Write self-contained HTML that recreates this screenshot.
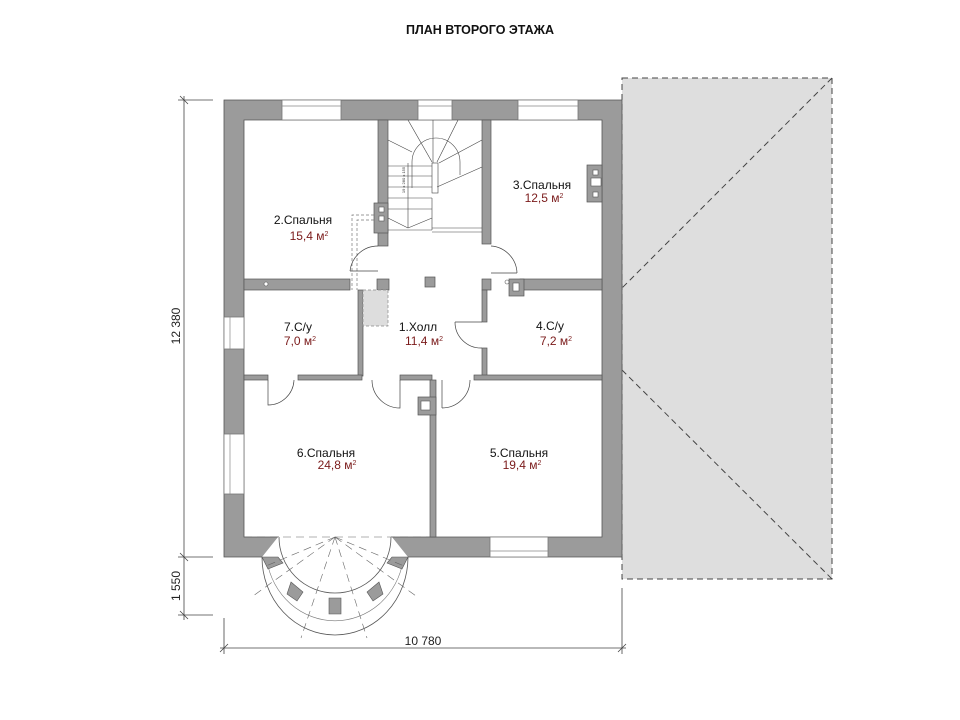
<!DOCTYPE html>
<html><head><meta charset="utf-8"><style>
html,body{margin:0;padding:0;background:#fff;}
svg{display:block;font-family:"Liberation Sans",sans-serif;}
</style></head><body>
<svg width="960" height="720" viewBox="0 0 960 720" xmlns="http://www.w3.org/2000/svg">
<text x="480" y="34" text-anchor="middle" font-size="12.5" font-weight="bold" fill="#111">ПЛАН ВТОРОГО ЭТАЖА</text>

<!-- roof -->
<rect x="622" y="78" width="210" height="501" fill="#dedede" stroke="#444" stroke-width="1" stroke-dasharray="6,4"/>
<line x1="832" y1="78" x2="622" y2="288" stroke="#444" stroke-dasharray="6,4"/>
<line x1="622" y1="370" x2="832" y2="579" stroke="#444" stroke-dasharray="6,4"/>

<!-- outer walls -->
<g fill="#9b9b9b" stroke="#555" stroke-width="0.8">
<path d="M224,100 H622 V557 H224 Z M244,120 V537 H602 V120 Z" fill-rule="evenodd"/>
</g>
<!-- bay outer wall -->
<path d="M262,557 A73,78 0 0 0 408,557 L392,537 A57,57 0 0 1 278,537 Z" fill="#fff" stroke="none"/>
<path d="M279,537 L279,556 M391,537 L391,556" stroke="#fff" stroke-width="2"/>
<!-- window openings (white) -->
<g fill="#fff" stroke="#777" stroke-width="0.8">
<rect x="282" y="100" width="59" height="20"/>
<rect x="418" y="100" width="34" height="20"/>
<rect x="518" y="100" width="60" height="20"/>
<rect x="224" y="317" width="20" height="32"/>
<rect x="224" y="434" width="20" height="60"/>
<rect x="490" y="537" width="58" height="20"/>
</g>
<rect x="279" y="536" width="112" height="22" fill="#fff"/>
<g stroke="#888" stroke-width="0.7">
<line x1="282" y1="106" x2="341" y2="106"/><line x1="418" y1="106" x2="452" y2="106"/><line x1="518" y1="106" x2="578" y2="106"/>
<line x1="230" y1="317" x2="230" y2="349"/><line x1="230" y1="434" x2="230" y2="494"/>
<line x1="490" y1="551" x2="548" y2="551"/>
</g>

<!-- interior walls -->
<g fill="#9b9b9b" stroke="#555" stroke-width="0.7">
<rect x="378" y="120" width="10" height="126"/>
<rect x="482" y="120" width="9" height="124"/>
<rect x="244" y="279" width="106" height="11"/>
<rect x="377" y="279" width="12" height="11"/>
<rect x="482" y="279" width="9" height="11"/>
<rect x="520" y="279" width="82" height="11"/>
<rect x="358" y="290" width="5" height="86"/>
<rect x="482" y="290" width="5" height="32"/>
<rect x="482" y="348" width="5" height="28"/>
<rect x="244" y="375" width="24" height="5"/>
<rect x="298" y="375" width="64" height="5"/>
<rect x="400" y="375" width="32" height="5"/>
<rect x="474" y="375" width="128" height="5"/>
<rect x="430" y="380" width="6" height="157"/>
<rect x="418" y="397" width="18" height="18"/>
<rect x="374" y="203" width="14" height="30"/>
<rect x="587" y="165" width="15" height="37"/>
<rect x="509" y="279" width="15" height="17"/>
<rect x="425" y="277" width="10" height="10"/>
</g>
<g fill="#fff" stroke="#555" stroke-width="0.6">
<rect x="421" y="401" width="9" height="9"/>
<rect x="379" y="207" width="5" height="5"/><rect x="379" y="216" width="5" height="5"/>
<rect x="593" y="170" width="5" height="5"/><rect x="591" y="178" width="10" height="8"/><rect x="593" y="192" width="5" height="5"/>
<rect x="513" y="283" width="6" height="8"/>
<circle cx="266" cy="284" r="2"/><circle cx="507" cy="282" r="2"/>
</g>

<!-- stairs -->
<g stroke="#444" stroke-width="0.6" fill="none">
<line x1="388" y1="140" x2="412" y2="152"/>
<line x1="408" y1="120" x2="432" y2="162"/>
<line x1="433" y1="120" x2="433" y2="163"/>
<line x1="458" y1="120" x2="437" y2="162"/>
<line x1="482" y1="140" x2="439" y2="163"/>
<path d="M412,188 V162 A24,24 0 0 1 460,162 V175"/>
<rect x="432" y="163" width="6" height="30"/>
<line x1="437" y1="187" x2="482" y2="167"/>
<line x1="388" y1="166" x2="432" y2="166"/>
<line x1="388" y1="176" x2="432" y2="176"/>
<line x1="388" y1="187" x2="432" y2="187"/>
<line x1="388" y1="198" x2="432" y2="198"/>
<line x1="388" y1="209" x2="432" y2="209"/>
<line x1="388" y1="218" x2="408" y2="228"/>
<line x1="432" y1="218" x2="408" y2="228"/>
<line x1="408" y1="163" x2="408" y2="228"/>
<line x1="432" y1="198" x2="432" y2="230"/>
<line x1="388" y1="230" x2="432" y2="230"/>
<line x1="432" y1="228" x2="482" y2="228"/>
<line x1="432" y1="232" x2="482" y2="232"/>
</g>
<text x="405" y="180" font-size="4" fill="#333" transform="rotate(-90 405 180)" text-anchor="middle">19 х 280 х 155</text>

<!-- dashed shafts -->
<g stroke="#777" stroke-width="0.7" fill="none" stroke-dasharray="3,2">
<path d="M374,215 H352 V290 M374,220 H357 V290"/>
</g>
<rect x="363" y="290" width="25" height="36" fill="#ddd" stroke="#888" stroke-width="0.7" stroke-dasharray="3,2"/>

<!-- doors -->
<g stroke="#444" stroke-width="0.7" fill="none">
<path d="M350,271 A28,28 0 0 1 378,246"/><line x1="350" y1="271" x2="378" y2="271"/>
<path d="M491,246 A28,28 0 0 1 517,273"/><line x1="491" y1="273" x2="517" y2="273"/>
<path d="M455,322 A26,26 0 0 0 482,348"/><line x1="455" y1="322" x2="482" y2="322"/>
<path d="M268,380 V405 A26,26 0 0 0 294,380"/>
<path d="M372,380 A28,28 0 0 0 400,408 V380"/>
<path d="M442,408 V380 M442,408 A28,28 0 0 0 470,380"/>
</g>

<!-- bay -->
<path d="M262,557 A73,78 0 0 0 408,557" fill="none" stroke="#555" stroke-width="0.8"/>
<path d="M267,561 A69,72 0 0 0 403,561" fill="none" stroke="#777" stroke-width="0.6"/>
<path d="M279,537 A56,56 0 0 0 391,537" fill="none" stroke="#555" stroke-width="0.8"/>
<g fill="#9b9b9b" stroke="#555" stroke-width="0.6">
<path d="M262,557 L278,557 L283,563 L268,569 Z"/>
<path d="M408,557 L392,557 L387,563 L402,569 Z"/>
<path d="M291,582 L303,592 L297,601 L287,594 Z"/>
<path d="M379,582 L367,592 L373,601 L383,594 Z"/>
<path d="M329,598 L341,598 L341,614 L329,614 Z"/>
</g>
<g stroke="#666" stroke-width="0.6" stroke-dasharray="8,5" fill="none">
<line x1="244" y1="537" x2="430" y2="537"/>
<line x1="335" y1="537" x2="253" y2="596"/>
<line x1="335" y1="537" x2="301" y2="638"/>
<line x1="335" y1="537" x2="367" y2="638"/>
<line x1="335" y1="537" x2="416" y2="596"/>
<line x1="335" y1="537" x2="266" y2="566"/>
<line x1="335" y1="537" x2="404" y2="566"/>
</g>

<!-- labels -->
<g font-size="12" fill="#111" text-anchor="middle">
<text x="303" y="224">2.Спальня</text>
<text x="542" y="189">3.Спальня</text>
<text x="298" y="331">7.С/у</text>
<text x="418" y="331">1.Холл</text>
<text x="550" y="330">4.С/у</text>
<text x="326" y="457">6.Спальня</text>
<text x="519" y="457">5.Спальня</text>
</g>
<g font-size="12" fill="#7a1a1a" text-anchor="middle">
<text x="309" y="240">15,4 м<tspan font-size="7" dy="-4">2</tspan></text>
<text x="544" y="202">12,5 м<tspan font-size="7" dy="-4">2</tspan></text>
<text x="300" y="345">7,0 м<tspan font-size="7" dy="-4">2</tspan></text>
<text x="424" y="345">11,4 м<tspan font-size="7" dy="-4">2</tspan></text>
<text x="556" y="345">7,2 м<tspan font-size="7" dy="-4">2</tspan></text>
<text x="337" y="469">24,8 м<tspan font-size="7" dy="-4">2</tspan></text>
<text x="522" y="469">19,4 м<tspan font-size="7" dy="-4">2</tspan></text>
</g>

<!-- dimensions -->
<g stroke="#444" stroke-width="0.8" fill="none">
<line x1="184" y1="96" x2="184" y2="620"/>
<line x1="178" y1="100" x2="213" y2="100"/>
<line x1="178" y1="557" x2="213" y2="557"/>
<line x1="178" y1="615" x2="213" y2="615"/>
<line x1="180" y1="96" x2="188" y2="104"/><line x1="180" y1="553" x2="188" y2="561"/><line x1="180" y1="611" x2="188" y2="619"/>
<line x1="220" y1="648" x2="626" y2="648"/>
<line x1="224" y1="618" x2="224" y2="654"/>
<line x1="622" y1="588" x2="622" y2="654"/>
<line x1="220" y1="652" x2="228" y2="644"/><line x1="618" y1="652" x2="626" y2="644"/>
</g>
<g font-size="12" fill="#222" text-anchor="middle">
<text x="184" y="330" transform="rotate(-90 180 330)">12 380</text>
<text x="184" y="590" transform="rotate(-90 180 590)">1 550</text>
<text x="423" y="645">10 780</text>
</g>
</svg>
</body></html>
